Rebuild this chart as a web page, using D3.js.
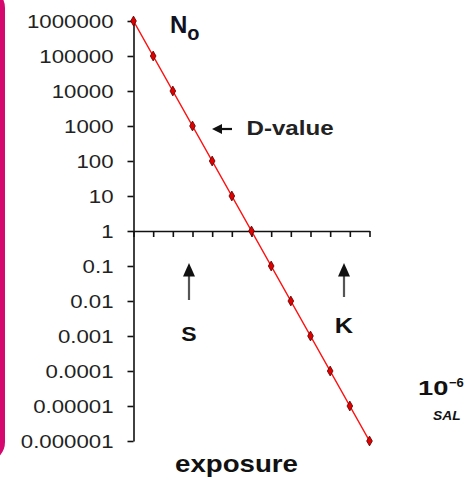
<!DOCTYPE html>
<html>
<head>
<meta charset="utf-8">
<script src="https://cdn.jsdelivr.net/npm/d3@7"></script>
<style>
  html, body { margin: 0; padding: 0; background: #fff; }
  svg { display: block; }
  text { font-family: "Liberation Sans", Arial, sans-serif; }
</style>
</head>
<body>
<div id="chart"></div>
<script>
// ---- data ----
const exposure = [0, 1, 2, 3, 4, 5, 6, 7, 8, 9, 10, 11, 12];
const survivors = [1000000, 100000, 10000, 1000, 100, 10, 1, 0.1, 0.01, 0.001, 0.0001, 0.00001, 0.000001];
const yTickLabels = ["1000000", "100000", "10000", "1000", "100", "10", "1",
                     "0.1", "0.01", "0.001", "0.0001", "0.00001", "0.000001"];
const dValueAt = 1000;          // level marked by the D-value arrow
const markerExposures = [{label: "S", x: 3}, {label: "K", x: 10.5}];

const W = 467, H = 477;
const svg = d3.select("#chart").append("svg").attr("width", W).attr("height", H);

// pink rounded frame edge
svg.append("rect")
  .attr("x", -100).attr("y", -10).attr("width", 102.5).attr("height", 470)
  .attr("rx", 18).attr("ry", 18)
  .attr("fill", "none").attr("stroke", "#d5086f").attr("stroke-width", 5);

const x = d3.scaleLinear().domain([0, 12]).range([133.5, 369.5]);
const y = d3.scaleLog().domain([1e6, 1e-6]).range([21, 441]);

function stretch(sel, sx) {
  sel.each(function () {
    const w = this.getComputedTextLength();
    d3.select(this).attr("textLength", w * sx).attr("lengthAdjust", "spacingAndGlyphs");
  });
}

// y axis
const yAxis = svg.append("g").attr("transform", `translate(${x(0)},0)`)
  .call(d3.axisLeft(y).tickValues(survivors)
    .tickFormat((d, i) => yTickLabels[i]).tickSize(6).tickSizeOuter(0).tickPadding(14));
yAxis.select(".domain").attr("stroke", "#111").attr("stroke-width", 1.6);
yAxis.selectAll(".tick line").attr("stroke", "#111").attr("stroke-width", 1.6);
yAxis.selectAll(".tick text")
  .attr("font-size", 17.5).attr("fill", "#222").attr("font-family", "Liberation Sans, Arial, sans-serif")
  .attr("dy", "0.36em");
stretch(yAxis.selectAll(".tick text"), 1.27);

// x axis at y = 1
const xAxis = svg.append("g").attr("transform", `translate(0,${y(1)})`)
  .call(d3.axisBottom(x).tickValues(exposure).tickFormat("").tickSize(6).tickSizeOuter(0));
xAxis.select(".domain").attr("stroke", "#111").attr("stroke-width", 1.6);
xAxis.selectAll(".tick line").attr("stroke", "#111").attr("stroke-width", 1.6);

// line + markers
const line = d3.line().x((d, i) => x(exposure[i])).y(d => y(d));
svg.append("path").datum(survivors).attr("d", line)
  .attr("fill", "none").attr("stroke", "#ff1010").attr("stroke-width", 1.5);

svg.selectAll(".pt").data(survivors).enter().append("path")
  .attr("class", "pt")
  .attr("transform", (d, i) => `translate(${x(exposure[i])},${y(d)})`)
  .attr("d", d3.symbol().type(d3.symbolDiamond).size(28))
  .attr("fill", "#e00000").attr("stroke", "#500").attr("stroke-width", 0.8);

// N0 label
const n0 = svg.append("text").attr("x", 170).attr("y", 32.5)
  .attr("font-size", 24).attr("font-weight", "bold").attr("fill", "#111122");
n0.append("tspan").text("N");
n0.append("tspan").attr("font-size", 20).attr("dy", 7.5).text("o");

// D-value arrow + label
const dy = y(dValueAt) + 3;
svg.append("line").attr("x1", 219).attr("x2", 232).attr("y1", dy).attr("y2", dy)
  .attr("stroke", "#111").attr("stroke-width", 2.2);
svg.append("path").attr("d", `M212,${dy} L222,${dy - 5} L222,${dy + 5} Z`).attr("fill", "#111");
const dv = svg.append("text").attr("x", 246.5).attr("y", dy + 5.5)
  .attr("font-size", 21).attr("font-weight", "bold").attr("fill", "#222").text("D-value");
stretch(dv, 87 / 75.8);

// S and K arrows
markerExposures.forEach(m => {
  const cx = m.label === "S" ? 189 : 344;
  const tail = m.label === "S" ? 300 : 297;
  svg.append("line").attr("x1", cx).attr("x2", cx).attr("y1", 272).attr("y2", tail)
    .attr("stroke", "#555").attr("stroke-width", 2.2);
  svg.append("path").attr("d", `M${cx},263 L${cx + 6},276.5 L${cx - 6},276.5 Z`).attr("fill", "#111");
  const t = svg.append("text").attr("x", cx).attr("y", m.label === "S" ? 341 : 333)
    .attr("text-anchor", "middle").attr("font-size", m.label === "S" ? 20 : 22)
    .attr("font-weight", "bold").attr("fill", "#111").text(m.label);
  stretch(t, 1.15);
});

// 10^-6 SAL
const ten = svg.append("text").attr("x", 418).attr("y", 395)
  .attr("font-size", 21).attr("font-weight", "bold").attr("fill", "#111").text("10");
stretch(ten, 1.3);
const sup = svg.append("text").attr("x", 449).attr("y", 387)
  .attr("font-size", 13).attr("font-weight", "bold").attr("fill", "#111").text("−6");
const sal = svg.append("text").attr("x", 433).attr("y", 420)
  .attr("font-size", 12).attr("font-weight", "bold").attr("font-style", "italic")
  .attr("fill", "#111").text("SAL");
stretch(sal, 1.15);

// x label
const xl = svg.append("text").attr("x", 175).attr("y", 472)
  .attr("font-size", 24).attr("font-weight", "bold").attr("fill", "#111").text("exposure");
stretch(xl, 123 / (4.446 * 24));
</script>
</body>
</html>
